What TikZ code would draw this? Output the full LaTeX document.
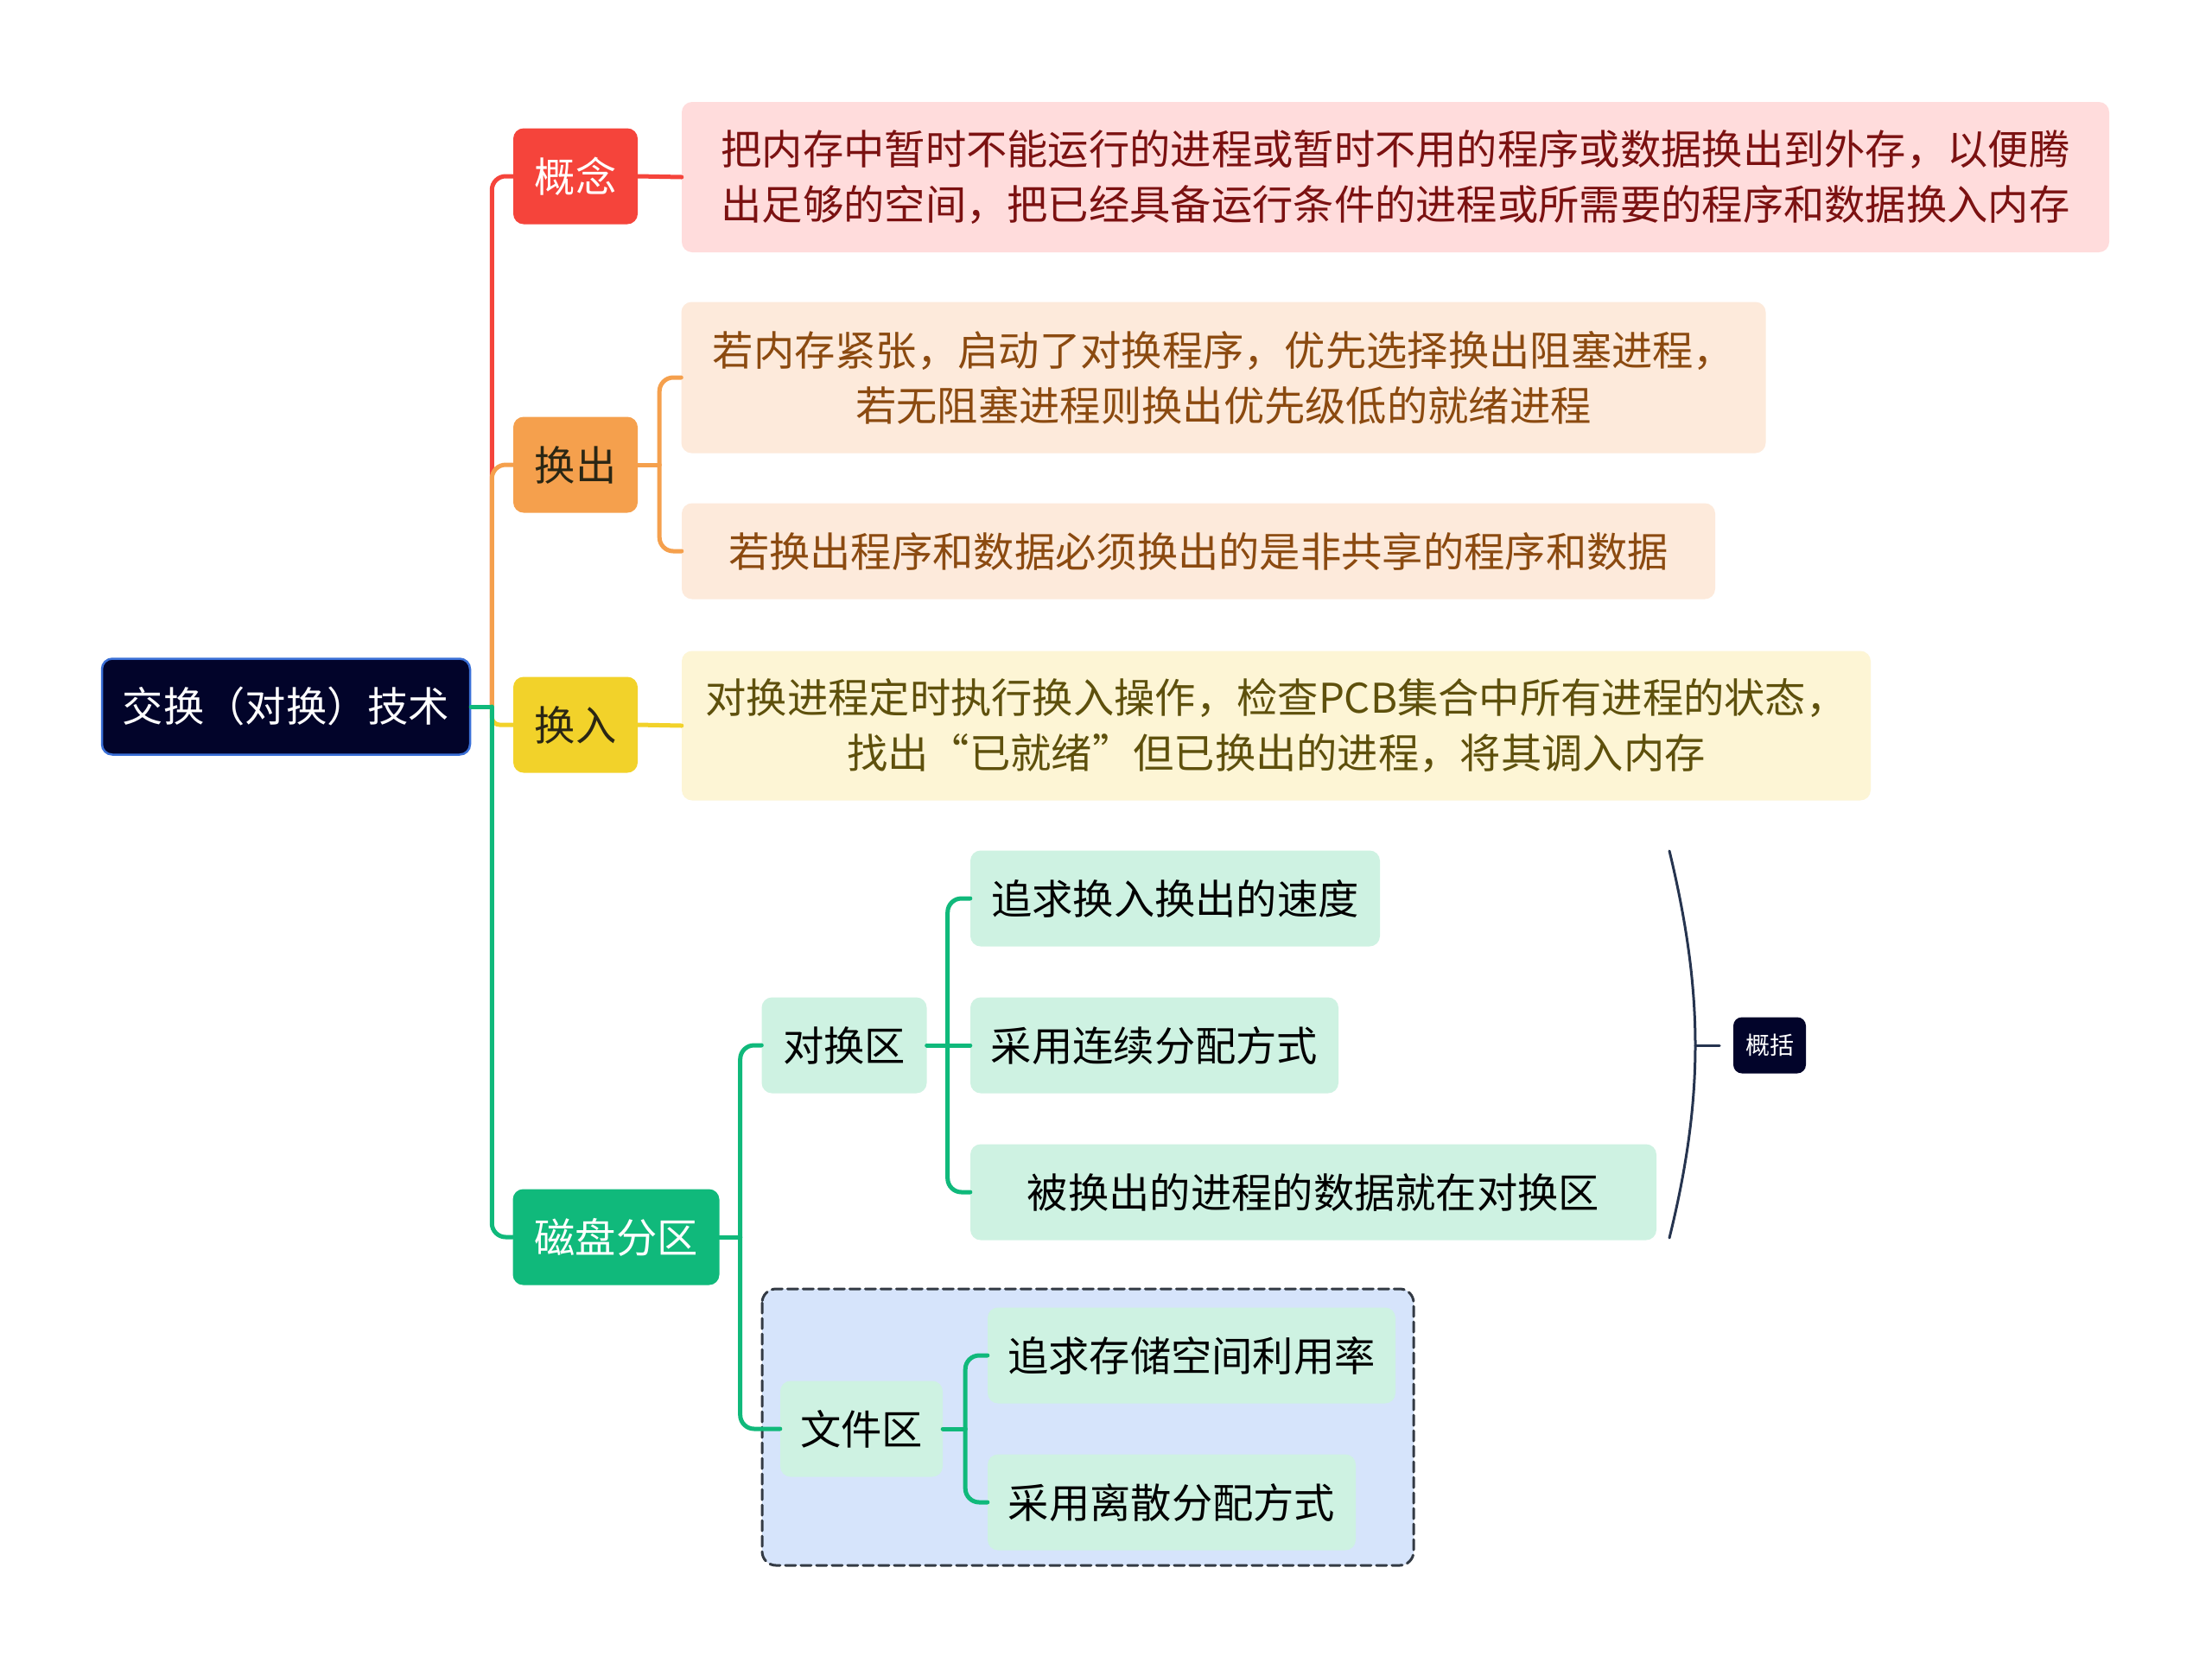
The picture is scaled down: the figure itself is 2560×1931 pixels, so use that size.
\documentclass[tikz,border=0pt]{standalone}
\usepackage{fontspec}
\newfontfamily\cjk{Noto Sans CJK SC}
\usetikzlibrary{positioning}
\definecolor{swapNavy}{HTML}{02042A}
\definecolor{swapBlue}{HTML}{3A6FD6}
\definecolor{swapRed}{HTML}{F5443B}
\definecolor{swapRedSoft}{HTML}{FFDCDC}
\definecolor{swapRedInk}{HTML}{7B1111}
\definecolor{swapOrange}{HTML}{F5A04D}
\definecolor{swapOrangeSoft}{HTML}{FDEADB}
\definecolor{swapOrangeInk}{HTML}{8B4A10}
\definecolor{swapYellow}{HTML}{F2D22A}
\definecolor{swapYellowSoft}{HTML}{FDF5D5}
\definecolor{swapYellowInk}{HTML}{5E500C}
\definecolor{swapGreen}{HTML}{10B97B}
\definecolor{swapGreenSoft}{HTML}{CEF2E2}
\definecolor{swapGroup}{HTML}{D6E4FB}
\definecolor{swapDash}{HTML}{333A44}
\definecolor{swapBrace}{HTML}{26344F}
\definecolor{swapInk}{HTML}{2A2614}

\begin{document}
\begin{tikzpicture}[x=1pt,y=-1pt,line cap=round,line join=round]
\path[fill=white] (0,0) rectangle (2560,1931);
\tikzset{txt/.style={font={\cjk\fontsize{47.3}{64}\selectfont}},topic/.style={txt,fill=swapNavy,draw=swapBlue,line width=2.5pt,rounded corners=12pt,text=white,minimum width=426pt,minimum height=111pt,inner sep=0pt},main/.style={txt,rounded corners=12pt,minimum height=111pt,inner sep=0pt},note/.style={txt,rounded corners=12pt,inner sep=0pt,align=center},sub/.style={txt,fill=swapGreenSoft,rounded corners=12pt,minimum height=111pt,inner sep=0pt,text=black},link/.style={line width=5pt},elbow/.style={line width=5pt,rounded corners=16pt},group/.style={draw=swapDash,fill=swapGroup,line width=3pt,dash pattern=on 12pt off 6pt,rounded corners=16pt}}
\path[group] (882,1492) rectangle (1636,1812);
\node[topic] (root) at (331,818) {交换（对换）技术};
\node[main,fill=swapRed,text=white,minimum width=144pt] (gainian) at (666,204) {概念};
\node[main,fill=swapOrange,text=swapInk,minimum width=144pt] (huanchu) at (666,538) {换出};
\node[main,fill=swapYellow,text=swapInk,minimum width=144pt] (huanru) at (666,839) {换入};
\node[main,fill=swapGreen,text=white,minimum width=239pt] (cipan) at (713,1432) {磁盘分区};
\node[note,fill=swapRedSoft,text=swapRedInk,minimum width=1652pt,minimum height=174pt] (gnNote) at (1615,205) {把内存中暂时不能运行的进程或暂时不用的程序或数据换出到外存，以便腾\\出足够的空间，把已经具备运行条件的进程或所需要的程序和数据换入内存};
\node[note,fill=swapOrangeSoft,text=swapOrangeInk,minimum width=1255pt,minimum height=175pt] (hcNoteA) at (1416,437) {若内存紧张，启动了对换程序，优先选择换出阻塞进程，\\若无阻塞进程则换出优先级低的就绪进程};
\node[note,fill=swapOrangeSoft,text=swapOrangeInk,minimum width=1196pt,minimum height=111pt] (hcNoteB) at (1387,638) {若换出程序和数据必须换出的是非共享的程序和数据};
\node[note,fill=swapYellowSoft,text=swapYellowInk,minimum width=1376pt,minimum height=173pt] (hrNote) at (1477,840) {对换进程定时执行换入操作，检查PCB集合中所有进程的状态，\\找出“已就绪”但已换出的进程，将其调入内存};
\node[sub,minimum width=191pt] (duihuan) at (977,1210) {对换区};
\node[sub,minimum width=188pt] (wenjian) at (997,1654) {文件区};
\node[sub,minimum width=474pt] (dhA) at (1360,1040) {追求换入换出的速度};
\node[sub,minimum width=426pt] (dhB) at (1336,1210) {采用连续分配方式};
\node[sub,minimum width=794pt] (dhC) at (1520,1380) {被换出的进程的数据就在对换区};
\node[sub,minimum width=472pt] (wjA) at (1379,1569) {追求存储空间利用率};
\node[sub,minimum width=426pt] (wjB) at (1356,1739) {采用离散分配方式};
\node[txt,fill=swapNavy,text=white,rounded corners=10pt,minimum width=84pt,minimum height=65pt,inner sep=0pt,font={\cjk\fontsize{28}{32}\selectfont}] (gaikuo) at (2048,1210) {概括};
\coordinate (rootJ) at ([xshift=24pt]root.east); \coordinate (huanchuJ) at ([xshift=25pt]huanchu.east); \coordinate (cipanJ) at ([xshift=24pt]cipan.east); \coordinate (duihuanJ) at ([xshift=24pt]duihuan.east); \coordinate (wenjianJ) at ([xshift=26pt]wenjian.east);
\draw[elbow,draw=swapRed] (rootJ) |- (gainian.west);
\draw[elbow,draw=swapOrange] (rootJ) |- (huanchu.west);
\draw[elbow,draw=swapYellow,rounded corners=9pt] (rootJ) |- (huanru.west);
\draw[elbow,draw=swapGreen] (rootJ) |- (cipan.west); \draw[link,draw=swapGreen] (root.east) -- (rootJ);
\draw[link,draw=swapRed] (gainian.east) -- (gnNote.west);
\draw[link,draw=swapOrange] (huanchu.east) -- (huanchuJ); \draw[elbow,draw=swapOrange] (huanchuJ) |- (hcNoteA.west); \draw[elbow,draw=swapOrange] (huanchuJ) |- (hcNoteB.west);
\draw[link,draw=swapYellow] (huanru.east) -- (hrNote.west);
\draw[link,draw=swapGreen] (cipan.east) -- (cipanJ); \draw[elbow,draw=swapGreen] (cipanJ) |- (duihuan.west); \draw[elbow,draw=swapGreen] (cipanJ) |- (wenjian.west);
\draw[elbow,draw=swapGreen] (duihuanJ) |- (dhA.west); \draw[link,draw=swapGreen] (duihuan.east) -- (dhB.west); \draw[elbow,draw=swapGreen] (duihuanJ) |- (dhC.west);
\draw[link,draw=swapGreen] (wenjian.east) -- (wenjianJ); \draw[elbow,draw=swapGreen] (wenjianJ) |- (wjA.west); \draw[elbow,draw=swapGreen] (wenjianJ) |- (wjB.west);
\coordinate (braceTop) at (1932,985); \coordinate (braceMid) at (1962,1210); \coordinate (braceBot) at (1932,1433);
\draw[draw=swapBrace,line width=3pt] (braceTop) .. controls (1955,1080) and (1962,1150) .. (braceMid) .. controls (1962,1270) and (1955,1340) .. (braceBot);
\draw[draw=swapBrace,line width=3pt] (braceMid) -- ++(28,0);
\end{tikzpicture}
\end{document}
